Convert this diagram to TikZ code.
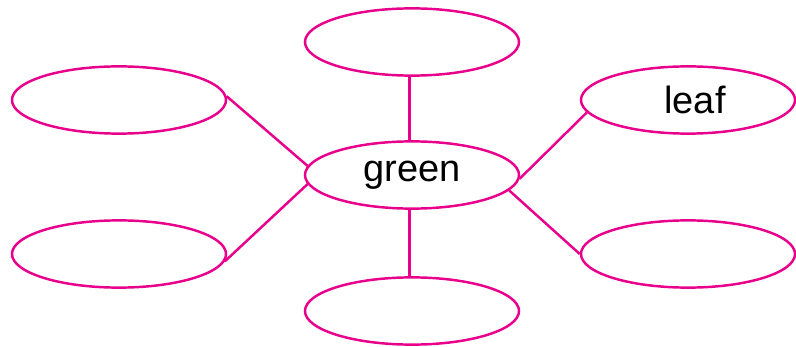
\documentclass[tikz,border=0pt]{standalone}
\usepackage{fontspec}
\setmainfont{Liberation Sans}
\usepackage{xcolor}
\usetikzlibrary{shapes,positioning,calc}

\definecolor{mapink}{RGB}{232,0,140}

\begin{document}
\begin{tikzpicture}[
    x=0.025cm, y=-0.025cm,
    bubble/.style={ellipse, draw=mapink, line width=1.75pt, minimum width=5.35cm, minimum height=1.68cm, inner sep=0pt, font=\fontsize{27}{32}\selectfont},
    link/.style={draw=mapink, line width=1.75pt}
]
\useasboundingbox (0,0) rectangle (796,347);

% Nodes
\node (green) [bubble] at (412,175) {green};
\node (top) [bubble] at (412,42) {};
\node (lefttop) [bubble] at (119,100) {};
\node (leftbot) [bubble] at (119,254) {};
\node (leaf) [bubble] at (688,100) {\hspace{10pt}leaf};
\node (rightbot) [bubble] at (688,254) {};
\node (bottom) [bubble] at (412,311) {};

% Lines
\draw [link] (green.94) -- (top.266);
\draw [link] (lefttop.2) -- (green.175);
\draw [link] (leftbot.356) -- (green.185);
\draw [link] (green.358) -- (leaf.187);
\draw [link] (green.351) -- (rightbot.180);
\draw [link] (green.266) -- (bottom.94);

\end{tikzpicture}
\end{document}
